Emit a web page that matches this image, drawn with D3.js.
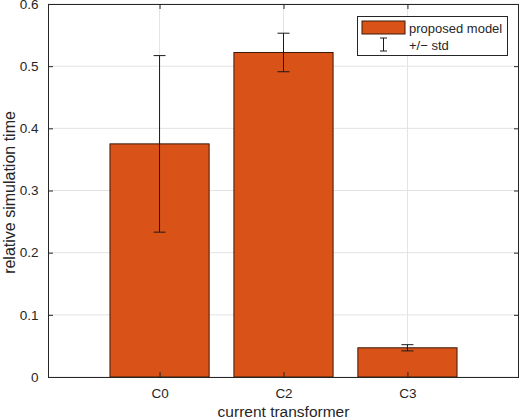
<!DOCTYPE html>
<html>
<head>
<meta charset="utf-8">
<script src="https://cdn.jsdelivr.net/npm/d3@7"></script>
<style>
  body { margin: 0; background: #fff; }
  text { font-family: "Liberation Sans", Arial, sans-serif; fill: #262626; }
</style>
</head>
<body>
<div id="chart"></div>
<script>
// data
var categories = ["C0", "C2", "C3"];
var meanValues = [0.375, 0.522, 0.047];
var stdValues = [0.142, 0.031, 0.005];
var yTicks = [0, 0.1, 0.2, 0.3, 0.4, 0.5, 0.6];

var width = 520, height = 420;
var margin = { top: 4, right: 1, bottom: 43, left: 48 };

var svg = d3.select("#chart").append("svg")
    .attr("width", width)
    .attr("height", height);

var x = d3.scaleLinear()
    .domain([0.1, 3.9])
    .range([margin.left, width - margin.right]);

var y = d3.scaleLinear()
    .domain([0, 0.6])
    .range([height - margin.bottom, margin.top]);

var bars = categories.map(function (c, i) {
    return { name: c, pos: i + 1, val: meanValues[i], std: stdValues[i] };
});

// grid
var grid = svg.append("g");
grid.selectAll(".gy")
    .data(yTicks)
    .enter().append("line")
    .attr("x1", x.range()[0]).attr("x2", x.range()[1])
    .attr("y1", function (d) { return y(d); })
    .attr("y2", function (d) { return y(d); })
    .attr("stroke", "#e3e3e3")
    .attr("stroke-width", 1);
grid.selectAll(".gx")
    .data(bars)
    .enter().append("line")
    .attr("x1", function (d) { return x(d.pos); })
    .attr("x2", function (d) { return x(d.pos); })
    .attr("y1", y.range()[0]).attr("y2", y.range()[1])
    .attr("stroke", "#e3e3e3")
    .attr("stroke-width", 1);

// bars
var bw = x(0.8) - x(0);
svg.append("g").selectAll("rect")
    .data(bars)
    .enter().append("rect")
    .attr("x", function (d) { return x(d.pos) - bw / 2; })
    .attr("y", function (d) { return y(d.val); })
    .attr("width", bw)
    .attr("height", function (d) { return y(0) - y(d.val); })
    .attr("fill", "#d95319")
    .attr("stroke", "#3a1a0a")
    .attr("stroke-width", 1);

// error bars
var err = svg.append("g").attr("stroke", "#1a1a1a").attr("stroke-width", 1);
bars.forEach(function (d) {
    var cx = x(d.pos);
    err.append("line")
        .attr("x1", cx).attr("x2", cx)
        .attr("y1", y(d.val - d.std)).attr("y2", y(d.val + d.std));
    [d.val - d.std, d.val + d.std].forEach(function (v) {
        err.append("line")
            .attr("x1", cx - 6).attr("x2", cx + 6)
            .attr("y1", y(v)).attr("y2", y(v));
    });
});

// axes
var yAxis = d3.axisLeft(y)
    .tickValues(yTicks)
    .tickFormat(d3.format("~g"))
    .tickSize(5)
    .tickPadding(4.5);
var yAxisR = d3.axisRight(y).tickValues(yTicks).tickSize(5).tickFormat("");

var xAxis = d3.axisBottom(x)
    .tickValues([1, 2, 3])
    .tickFormat(function (d) { return categories[d - 1]; })
    .tickSize(5)
    .tickPadding(6);
var xAxisT = d3.axisTop(x).tickValues([1, 2, 3]).tickSize(5).tickFormat("");

function styleAxis(g) {
    g.select(".domain").remove();
    g.selectAll("line").attr("stroke", "#262626");
    g.selectAll("text").style("font-size", "13.5px").attr("fill", "#262626");
}

svg.append("g")
    .attr("transform", "translate(" + margin.left + ",0)")
    .call(yAxis).call(styleAxis)
    .selectAll(".tick line").attr("x2", 5);
svg.append("g")
    .attr("transform", "translate(" + (width - margin.right) + ",0)")
    .call(yAxisR).call(styleAxis)
    .selectAll(".tick line").attr("x2", -5);
svg.append("g")
    .attr("transform", "translate(0," + (height - margin.bottom) + ")")
    .call(xAxis).call(styleAxis)
    .selectAll(".tick line").attr("y2", -5);
svg.append("g")
    .attr("transform", "translate(0," + margin.top + ")")
    .call(xAxisT).call(styleAxis)
    .selectAll(".tick line").attr("y2", 5);

// box
svg.append("rect")
    .attr("x", margin.left + 0.5)
    .attr("y", margin.top + 0.5)
    .attr("width", width - margin.left - margin.right - 1)
    .attr("height", height - margin.top - margin.bottom)
    .attr("fill", "none")
    .attr("stroke", "#262626")
    .attr("stroke-width", 1);

// axis labels
svg.append("text")
    .attr("x", x(2))
    .attr("y", 417)
    .attr("text-anchor", "middle")
    .style("font-size", "15.5px")
    .text("current transformer");

svg.append("text")
    .attr("transform", "translate(15," + (y(0.3) + 2) + ") rotate(-90)")
    .attr("text-anchor", "middle")
    .style("font-size", "16px")
    .text("relative simulation time");

// legend
var lg = svg.append("g").attr("transform", "translate(357,16)");
lg.append("rect")
    .attr("x", 0.5).attr("y", 0.5)
    .attr("width", 150).attr("height", 39)
    .attr("fill", "#fff")
    .attr("stroke", "#262626")
    .attr("stroke-width", 1);
lg.append("rect")
    .attr("x", 5).attr("y", 5)
    .attr("width", 43).attr("height", 13)
    .attr("fill", "#d95319")
    .attr("stroke", "#3a1a0a");
lg.append("text")
    .attr("x", 52).attr("y", 16.5)
    .style("font-size", "13px")
    .text("proposed model");
var li = lg.append("g").attr("stroke", "#1a1a1a").attr("stroke-width", 1);
li.append("line").attr("x1", 26.5).attr("x2", 26.5).attr("y1", 22).attr("y2", 35);
li.append("line").attr("x1", 23).attr("x2", 30).attr("y1", 22).attr("y2", 22);
li.append("line").attr("x1", 23).attr("x2", 30).attr("y1", 35).attr("y2", 35);
lg.append("text")
    .attr("x", 52).attr("y", 34)
    .style("font-size", "13px")
    .text("+/\u2212 std");
</script>
</body>
</html>
